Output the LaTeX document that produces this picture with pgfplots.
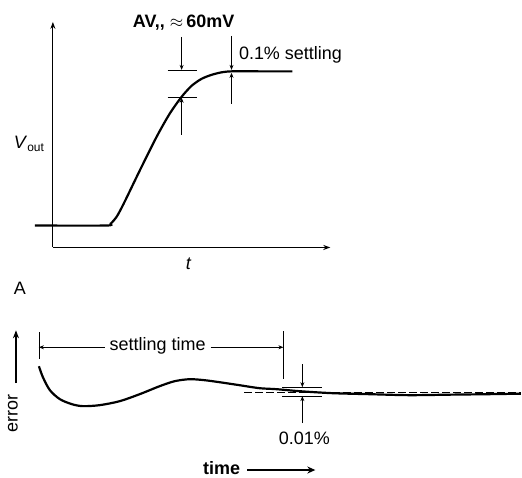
\documentclass[border=0pt]{standalone}
\usepackage{fontspec}
\setmainfont{Liberation Sans}
\usepackage{pgfplots}
\pgfplotsset{compat=1.18}
\usetikzlibrary{arrows.meta}
\newcommand\lbl{\fontsize{18}{21}\selectfont}

\begin{document}
\begin{tikzpicture}
\begin{axis}[
    scale only axis,
    width=522pt, height=479pt,
    xmin=0, xmax=522, ymin=0, ymax=479,
    y dir=reverse,
    hide axis,
    clip=false,
]
% keep the page the size of the reference
\path (axis cs:0,0) rectangle (axis cs:522,479);

% ---- panel A: output step ----
\draw[line width=1.1pt, -{Stealth[length=7pt,width=5pt]}] (axis cs:53,248) -- (axis cs:53,22);
\draw[line width=1.1pt, -{Stealth[length=7pt,width=5pt]}] (axis cs:53,248) -- (axis cs:331,248);

\addplot[black, line width=2.2pt, smooth, tension=0.45] coordinates {
    (35,226) (106,226) (111,224) (117,217) (124,204) (140,171)
    (157,137) (170,114) (182,97) (192,86) (202,79) (212,75)
    (222,72.5) (232,71.5) (260,71.5) (293,71.5)
};

% 60 mV band
\draw[line width=0.7pt] (axis cs:168,70) -- (axis cs:197,70);
\draw[line width=0.7pt] (axis cs:168,98) -- (axis cs:197,98);
\draw[line width=0.7pt, -{Stealth[length=5pt,width=4pt]}] (axis cs:182,37) -- (axis cs:182,70);
\draw[line width=0.7pt, -{Stealth[length=5pt,width=4pt]}] (axis cs:182,135) -- (axis cs:182,98);
% 0.1% band
\draw[line width=0.7pt, -{Stealth[length=5pt,width=4pt]}] (axis cs:232,36) -- (axis cs:232,70);
\draw[line width=0.7pt, -{Stealth[length=5pt,width=4pt]}] (axis cs:232,104) -- (axis cs:232,73);

\node[anchor=base, font=\lbl\bfseries] at (axis cs:184,28) {AV,{},{} $\approx$\,60mV};
\node[anchor=base west, font=\lbl] at (axis cs:236,60) {0.1\% settling};
\node[font=\lbl] at (axis cs:29,144) {\textit{V}\raisebox{-0.35ex}{\fontsize{12}{14}\selectfont out}};
\node[font=\lbl] at (axis cs:189,264) {\textit{t}};
\node[font=\lbl] at (axis cs:20,289) {A};

% ---- panel B: error ----
\draw[line width=1.6pt, -{Stealth[length=8pt,width=6pt]}] (axis cs:16,384) -- (axis cs:16,331);
\node[rotate=90, font=\lbl] at (axis cs:13,414) {error};

\draw[line width=0.7pt] (axis cs:39,333) -- (axis cs:39,360);
\draw[line width=0.7pt] (axis cs:284,332) -- (axis cs:284,380);
\draw[line width=0.7pt, {Stealth[length=5pt,width=4pt]}-] (axis cs:39,348) -- (axis cs:105,348);
\draw[line width=0.7pt, -{Stealth[length=5pt,width=4pt]}] (axis cs:211,348) -- (axis cs:284,348);
\node[font=\lbl] at (axis cs:158,347) {settling time};

\draw[line width=0.6pt, dash pattern=on 8pt off 3pt] (axis cs:245,393) -- (axis cs:522,393);

\addplot[black, line width=2.2pt, smooth, tension=0.5] coordinates {
    (39,367) (43,378) (50,391) (60,400) (72,405) (83,407) (100,406)
    (120,402) (140,395) (160,387) (175,382) (190,380) (205,381)
    (220,383) (240,386) (260,389) (277,390) (300,392) (333,394)
    (370,395) (410,396) (450,395.5) (490,395) (522,394.5)
};

% 0.01% band
\draw[line width=0.7pt] (axis cs:283,388) -- (axis cs:323,388);
\draw[line width=0.7pt] (axis cs:283,397) -- (axis cs:323,397);
\draw[line width=0.7pt, -{Stealth[length=5pt,width=4pt]}] (axis cs:303,365) -- (axis cs:303,388);
\draw[line width=0.7pt, -{Stealth[length=5pt,width=4pt]}] (axis cs:303,424) -- (axis cs:303,397);
\node[font=\lbl] at (axis cs:305,439) {0.01\%};

\node[anchor=base, font=\lbl\bfseries] at (axis cs:222,475) {time};
\draw[line width=2pt, -{Stealth[length=8pt,width=7pt]}] (axis cs:248,471) -- (axis cs:316,471);
\end{axis}
\end{tikzpicture}
\end{document}
